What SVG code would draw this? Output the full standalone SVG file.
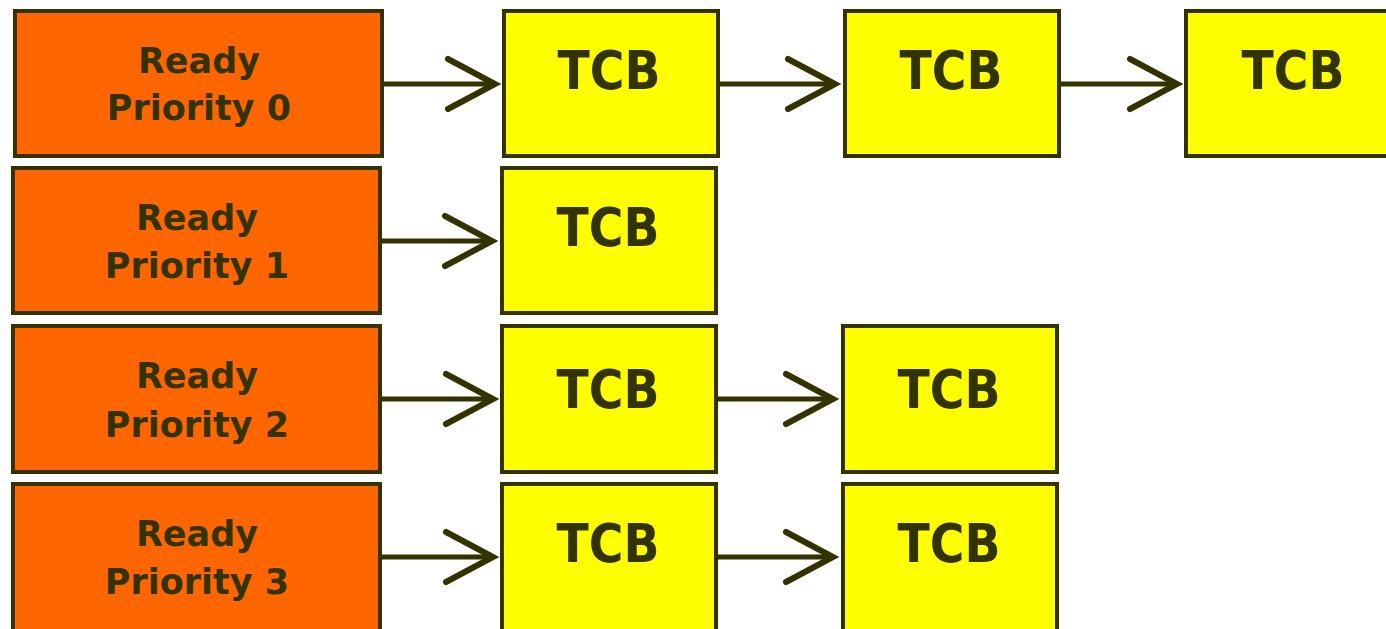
<svg xmlns="http://www.w3.org/2000/svg" width="1386" height="629" viewBox="0 0 1386 629">
  <style>
    .ready { fill: #FF6600; stroke: #333300; stroke-width: 4; }
    .tcb { fill: #FFFF00; stroke: #333300; stroke-width: 4; }
    .lbl { font-family: "DejaVu Sans", Verdana, sans-serif; font-weight: bold; fill: #333300; text-anchor: middle; }
    .rl { font-size: 35px; }
    .tl { font-size: 54px; }
    .link { stroke: #333300; stroke-width: 5; fill: none; marker-end: url(#chev); }
  </style>
  <defs>
    <marker id="chev" markerUnits="userSpaceOnUse" viewBox="-4 -4 56 60" refX="47" refY="25" markerWidth="56" markerHeight="60" orient="auto" overflow="visible">
      <path d="M0,0 L47,25 L0,50" fill="none" stroke="#333300" stroke-width="6" stroke-linecap="round" stroke-linejoin="miter"/>
    </marker>
  </defs>
  <rect width="1386" height="629" fill="#FFFFFF"/>

  <!-- ready list heads -->
  <g id="ready0">
    <rect class="ready" x="15" y="11" width="367" height="145"/>
    <text class="lbl rl" x="199" y="73">Ready</text>
    <text class="lbl rl" x="199" y="120">Priority 0</text>
  </g>
  <g id="ready1">
    <rect class="ready" x="13" y="168" width="367" height="145"/>
    <text class="lbl rl" x="197" y="230">Ready</text>
    <text class="lbl rl" x="197" y="278">Priority 1</text>
  </g>
  <g id="ready2">
    <rect class="ready" x="13" y="326" width="367" height="146"/>
    <text class="lbl rl" x="197" y="388">Ready</text>
    <text class="lbl rl" x="197" y="437">Priority 2</text>
  </g>
  <g id="ready3">
    <rect class="ready" x="13" y="484" width="367" height="160"/>
    <text class="lbl rl" x="197" y="546">Ready</text>
    <text class="lbl rl" x="197" y="594">Priority 3</text>
  </g>

  <!-- task control blocks -->
  <g id="tcb0a">
    <rect class="tcb" x="504" y="11" width="214" height="145"/>
    <text class="lbl tl" x="609" y="89" textLength="103" lengthAdjust="spacingAndGlyphs">TCB</text>
  </g>
  <g id="tcb0b">
    <rect class="tcb" x="845" y="11" width="214" height="145"/>
    <text class="lbl tl" x="951" y="89" textLength="103" lengthAdjust="spacingAndGlyphs">TCB</text>
  </g>
  <g id="tcb0c">
    <rect class="tcb" x="1186" y="11" width="214" height="145"/>
    <text class="lbl tl" x="1293" y="89" textLength="103" lengthAdjust="spacingAndGlyphs">TCB</text>
  </g>
  <g id="tcb1a">
    <rect class="tcb" x="502" y="168" width="214" height="145"/>
    <text class="lbl tl" x="608" y="246" textLength="103" lengthAdjust="spacingAndGlyphs">TCB</text>
  </g>
  <g id="tcb2a">
    <rect class="tcb" x="502" y="326" width="214" height="146"/>
    <text class="lbl tl" x="608" y="408" textLength="103" lengthAdjust="spacingAndGlyphs">TCB</text>
  </g>
  <g id="tcb2b">
    <rect class="tcb" x="843" y="326" width="214" height="146"/>
    <text class="lbl tl" x="949" y="408" textLength="103" lengthAdjust="spacingAndGlyphs">TCB</text>
  </g>
  <g id="tcb3a">
    <rect class="tcb" x="502" y="484" width="214" height="160"/>
    <text class="lbl tl" x="608" y="562" textLength="103" lengthAdjust="spacingAndGlyphs">TCB</text>
  </g>
  <g id="tcb3b">
    <rect class="tcb" x="843" y="484" width="214" height="160"/>
    <text class="lbl tl" x="949" y="562" textLength="103" lengthAdjust="spacingAndGlyphs">TCB</text>
  </g>

  <!-- links -->
  <g id="links">
    <path class="link" d="M382,84 H495"/>
    <path class="link" d="M718,84 H835"/>
    <path class="link" d="M1059,84 H1177"/>
    <path class="link" d="M380,241 H492"/>
    <path class="link" d="M380,399 H493"/>
    <path class="link" d="M716,399 H833"/>
    <path class="link" d="M380,557 H493"/>
    <path class="link" d="M716,557 H833"/>
  </g>
</svg>
